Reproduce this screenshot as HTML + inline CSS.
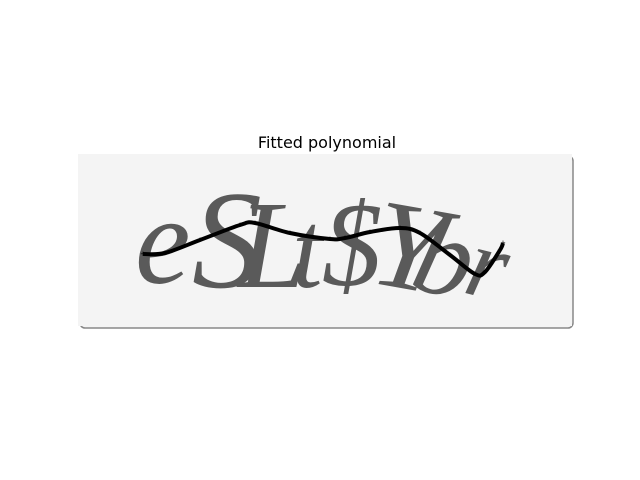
<!DOCTYPE html>
<html><head><meta charset="utf-8"><style>
body{margin:0;background:#fff;}
svg{display:block;}
</style></head><body>
<svg width="640" height="480" viewBox="0 0 640 480">
<rect width="640" height="480" fill="#fff"/>
<text x="327" y="148" font-family="DejaVu Sans, Liberation Sans, sans-serif" font-size="16" text-anchor="middle" fill="#000">Fitted polynomial</text>
<g>
<rect x="80" y="156" width="493" height="172" rx="5" fill="#f4f4f4" stroke="#888" stroke-width="1.5"/>
<rect x="78" y="154" width="494" height="172" fill="#f4f4f4"/>
<g font-family="Liberation Serif, DejaVu Serif, serif" font-style="italic" fill="#5a5a5a">
<text x="135" y="283" font-size="125">e</text>
<text x="192" y="287" font-size="140">S</text>
<text x="238" y="287" font-size="125">L</text>
<text x="292" y="287" font-size="110">t</text>
<text x="322" y="285" font-size="120">$</text>
<text x="375" y="288" font-size="125" transform="rotate(10 405 240)">Y</text>
<text x="418" y="296" font-size="115" transform="rotate(14 450 250)">b</text>
<text x="470" y="298" font-size="100" transform="rotate(14 490 260)">r</text>
</g>
</g>
<g id="curve"></g>
</svg>
<script>
const xs = [63, 85, 120, 160, 175, 210, 250, 265, 290, 320, 340, 370, 395, 405, 420, 423];
const ys = [98, 97, 84, 69, 67, 77, 83, 82, 76, 72, 77, 99, 118, 116, 94, 87];
const X0 = 80, Y0 = 156;
function sx(v){return X0 + v;}
function sy(v){return Y0 + v;}
const g = document.getElementById('curve');
const ns = 'http://www.w3.org/2000/svg';
const P = xs.map((x,i)=>[sx(x), sy(ys[i])]);
let d = 'M' + P[0][0] + ' ' + P[0][1] + ' ';
for (let i=0;i<P.length-1;i++){
  const p0=P[Math.max(0,i-1)], p1=P[i], p2=P[i+1], p3=P[Math.min(P.length-1,i+2)];
  const c1=[p1[0]+(p2[0]-p0[0])/6, p1[1]+(p2[1]-p0[1])/6];
  const c2=[p2[0]-(p3[0]-p1[0])/6, p2[1]-(p3[1]-p1[1])/6];
  d += 'C'+c1[0]+' '+c1[1]+' '+c2[0]+' '+c2[1]+' '+p2[0]+' '+p2[1]+' ';
}
const p = document.createElementNS(ns,'path');
p.setAttribute('d', d);
p.setAttribute('fill','none');
p.setAttribute('stroke','#000');
p.setAttribute('stroke-width','4');
p.setAttribute('stroke-linejoin','round');


g.appendChild(p);
xs.forEach((x,i)=>{
  const m = document.createElementNS(ns,'text');
  m.setAttribute('x', sx(x)); m.setAttribute('y', sy(ys[i]) + 3);
  m.setAttribute('font-size','9'); m.setAttribute('text-anchor','middle');
  m.setAttribute('font-family','Liberation Sans, sans-serif');
  m.textContent = '+';
  
  
  g.appendChild(m);
});
</script>
</body></html>
